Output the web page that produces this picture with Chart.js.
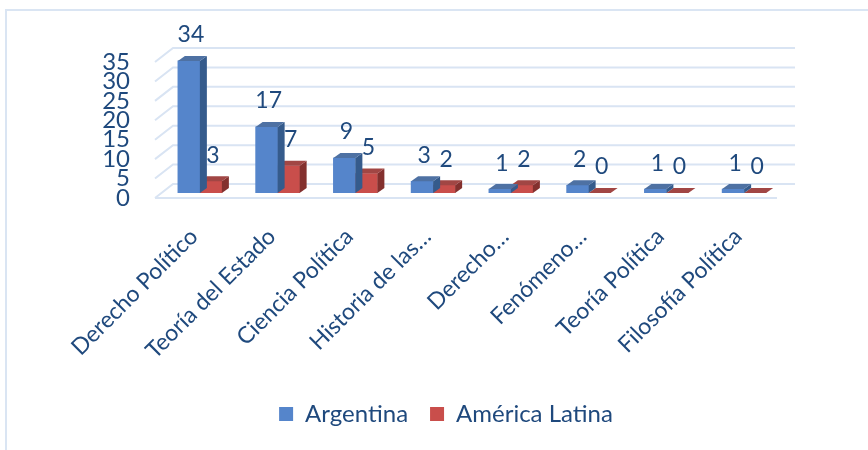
<!DOCTYPE html>
<html>
<head>
<meta charset="utf-8">
<script src="https://cdn.jsdelivr.net/npm/chart.js@4.4.1/dist/chart.umd.min.js"></script>
<style>
  html, body { margin: 0; padding: 0; background: #fff; overflow: hidden; }
  #frame { position: absolute; left: 5px; top: 9px; width: 900px; height: 500px;
           border-left: 2px solid #dae5f3; border-top: 2px solid #dae5f3; }
  #wrap { position: absolute; left: 0; top: 0; width: 868px; height: 450px; }
</style>
</head>
<body>
<div id="frame"></div>
<div id="wrap"><canvas id="chart"></canvas></div>
<script>
const categories = ['Derecho Político', 'Teoría del Estado', 'Ciencia Política', 'Historia de las…',
                    'Derecho…', 'Fenómeno…', 'Teoría Política', 'Filosofía Política'];
const argentina = [34, 17, 9, 3, 1, 2, 1, 1];
const americaLatina = [3, 7, 5, 2, 2, 0, 0, 0];
const yTicks = [0, 5, 10, 15, 20, 25, 30, 35];

const TEXT = '#1f497d';
const FONT = 'Lato, "Noto Sans", sans-serif';

// 3d look: back wall offset, bar shift into the floor, bar depth
const WALL_DX = 18, WALL_DY = 14;
const SHIFT_DX = 6, SHIFT_DY = 5;
const BAR_DX = 7, BAR_DY = 5;
const PAD_LEFT = 24, PAD_BOTTOM = 14;
const FLOOR_Y = 198, PLOT_LEFT = 155;

const faces = [
  { side: '#355b8c', top: '#4e71a3' },
  { side: '#83302e', top: '#a14644' }
];

const threeD = {
  id: 'threeD',
  beforeDatasetsDraw(chart) {
    const { ctx, chartArea: a, scales: { y } } = chart;
    ctx.save();
    ctx.strokeStyle = '#d9e4f3';
    ctx.lineWidth = 2;
    yTicks.forEach(v => {
      const yy = y.getPixelForValue(v);
      ctx.beginPath();
      ctx.moveTo(a.left, yy);
      ctx.lineTo(a.left + WALL_DX, yy - WALL_DY);
      ctx.lineTo(a.right + WALL_DX, yy - WALL_DY);
      ctx.stroke();
    });
    ctx.beginPath();
    ctx.moveTo(a.left, a.bottom);
    ctx.lineTo(a.right, a.bottom);
    ctx.stroke();
    ctx.restore();
    ctx.save();
    ctx.translate(SHIFT_DX, -SHIFT_DY);
  },
  afterDatasetDraw(chart, args) {
    const ctx = chart.ctx;
    const f = faces[args.index];
    chart.getDatasetMeta(args.index).data.forEach(el => {
      const { x, y, base, width } = el.getProps(['x', 'y', 'base', 'width'], true);
      const l = x - width / 2, r = x + width / 2;
      ctx.fillStyle = f.side;
      ctx.beginPath();
      ctx.moveTo(r, y);
      ctx.lineTo(r + BAR_DX, y - BAR_DY);
      ctx.lineTo(r + BAR_DX, base - BAR_DY);
      ctx.lineTo(r, base);
      ctx.closePath();
      ctx.fill();
      ctx.fillStyle = f.top;
      ctx.beginPath();
      ctx.moveTo(l, y);
      ctx.lineTo(l + BAR_DX, y - BAR_DY);
      ctx.lineTo(r + BAR_DX, y - BAR_DY);
      ctx.lineTo(r, y);
      ctx.closePath();
      ctx.fill();
    });
  },
  afterDatasetsDraw(chart) {
    const ctx = chart.ctx;
    ctx.restore();
    ctx.save();
    ctx.font = '23px ' + FONT;
    ctx.fillStyle = TEXT;
    ctx.textAlign = 'center';
    ctx.textBaseline = 'middle';
    chart.data.datasets.forEach((ds, i) => {
      chart.getDatasetMeta(i).data.forEach((el, j) => {
        ctx.fillText(String(ds.data[j]), el.x + SHIFT_DX + 2, el.y - SHIFT_DY - 26);
      });
    });
    ctx.restore();
  }
};

new Chart(document.getElementById('chart'), {
  type: 'bar',
  data: {
    labels: categories,
    datasets: [
      { label: 'Argentina', data: argentina, backgroundColor: '#5585cb', barThickness: 22 },
      { label: 'América Latina', data: americaLatina, backgroundColor: '#c94e4b', barThickness: 22 }
    ]
  },
  options: {
    responsive: true,
    maintainAspectRatio: false,
    animation: false,
    layout: { padding: { left: PAD_LEFT, right: 0, top: 62, bottom: PAD_BOTTOM } },
    plugins: {
      tooltip: { enabled: false },
      legend: {
        position: 'bottom',
        labels: {
          boxWidth: 14,
          boxHeight: 14,
          padding: 22,
          color: TEXT,
          font: { family: FONT, size: 24 }
        }
      }
    },
    scales: {
      x: {
        grid: { display: false, drawTicks: false },
        border: { display: false },
        ticks: {
          color: TEXT,
          font: { family: FONT, size: 23 },
          minRotation: 45,
          maxRotation: 45,
          autoSkip: false,
          padding: 25
        },
        afterFit(s) {
          s.height = s.chart.height - PAD_BOTTOM - s.chart.legend.height - FLOOR_Y;
        }
      },
      y: {
        min: 0,
        max: 35,
        grid: { display: false, drawTicks: false },
        border: { display: false },
        ticks: {
          stepSize: 5,
          autoSkip: false,
          color: TEXT,
          font: { family: FONT, size: 24 },
          padding: 25
        },
        afterFit(s) { s.width = PLOT_LEFT - PAD_LEFT; }
      },
      yR: {
        position: 'right',
        grid: { display: false },
        border: { display: false },
        ticks: { display: false },
        afterFit(s) { s.width = 91; }
      }
    }
  },
  plugins: [threeD]
});
</script>
</body>
</html>
